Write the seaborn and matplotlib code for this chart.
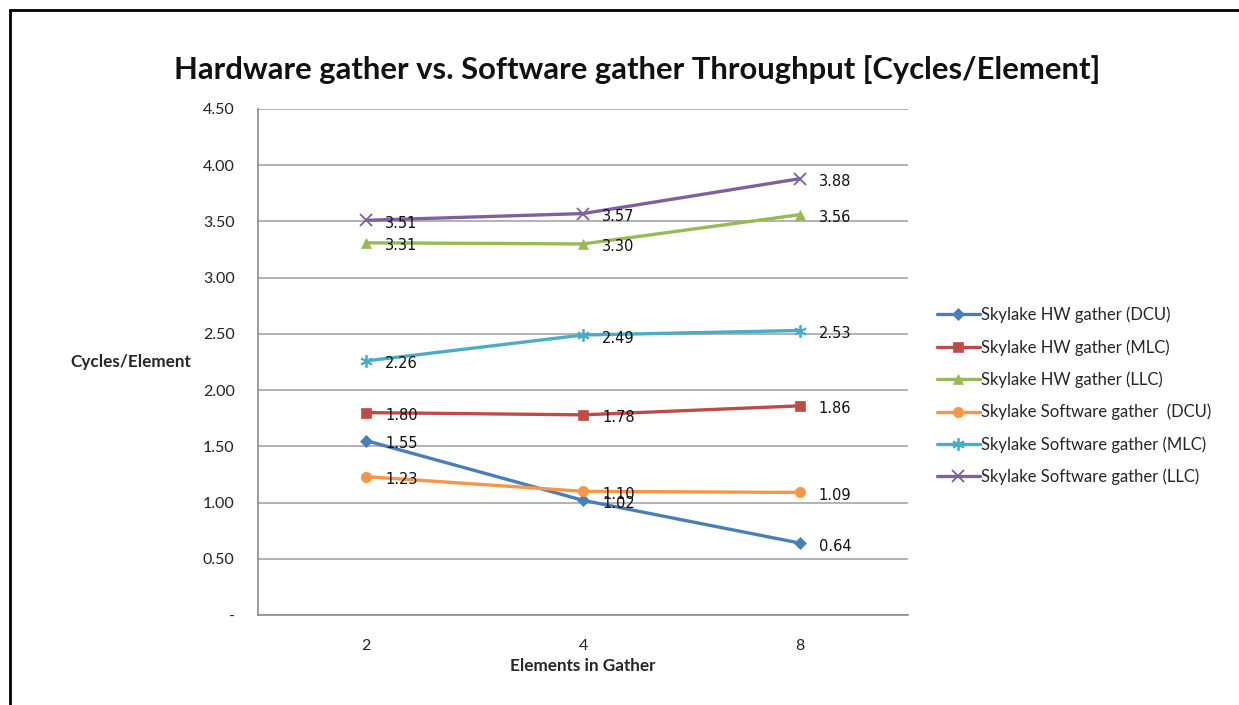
import matplotlib
matplotlib.use("Agg")
import matplotlib.pyplot as plt
from matplotlib.lines import Line2D
from matplotlib.ticker import FixedLocator, FuncFormatter
import seaborn as sns
import pandas as pd

# Gather throughput measurements (cycles per element)
elements = ["2", "4", "8"]
hw_dcu = [1.55, 1.02, 0.64]
hw_mlc = [1.80, 1.78, 1.86]
hw_llc = [3.31, 3.30, 3.56]
sw_dcu = [1.23, 1.10, 1.09]
sw_mlc = [2.26, 2.49, 2.53]
sw_llc = [3.51, 3.57, 3.88]

series_names = [
    "Skylake HW gather (DCU)",
    "Skylake HW gather (MLC)",
    "Skylake HW gather (LLC)",
    "Skylake Software gather  (DCU)",
    "Skylake Software gather (MLC)",
    "Skylake Software gather (LLC)",
]
series_values = [hw_dcu, hw_mlc, hw_llc, sw_dcu, sw_mlc, sw_llc]
colors = ["#4A7EBB", "#BE4B48", "#98B954", "#F79646", "#4BACC6", "#7D60A0"]
markers = ["D", "s", "^", "o", (6, 2, 0), "x"]
marker_sizes = [6.5, 7.5, 7.5, 7.5, 9, 9]

sns.set_theme(style="white")
plt.rcParams["font.family"] = ["Lato", "DejaVu Sans"]

fig = plt.figure(figsize=(12.39, 7.05), dpi=100)
ax = fig.add_axes([258 / 1239, 1 - 615 / 705, 650 / 1239, 506 / 705])

for name, vals, col, mk, ms in zip(series_names, series_values, colors, markers, marker_sizes):
    df = pd.DataFrame({"pos": range(len(elements)), "value": vals})
    sns.lineplot(data=df, x="pos", y="value", color=col, marker=mk, markersize=ms,
                 markeredgecolor=col, markeredgewidth=1.3 if mk in ("x", (6, 2, 0)) else 0.5,
                 linewidth=2.4, label=name, ax=ax)
    for i, v in enumerate(vals):
        ax.annotate(f"{v:.2f}", xy=(i, v), xytext=(19, -3), textcoords="offset pixels",
                    ha="left", va="center", fontsize=10.5, family="DejaVu Sans", color="#111111")

ax.set_xlim(-0.5, 2.5)
ax.set_ylim(0, 4.5)
ax.set_xticks(range(len(elements)))
ax.set_xticklabels(elements)
ax.xaxis.set_minor_locator(FixedLocator([-0.5, 0.5, 1.5, 2.5]))
ax.tick_params(axis="x", which="major", length=0, pad=17.5, labelsize=11.5, labelcolor="#222222")
ax.tick_params(axis="x", which="minor", length=3.6, width=1, color="#8C8C8C", direction="out")
ax.set_yticks([i * 0.5 for i in range(10)])
ax.yaxis.set_major_formatter(FuncFormatter(lambda v, p: "-" if v == 0 else f"{v:.2f}"))
ax.tick_params(axis="y", length=3.6, width=1, color="#8C8C8C", direction="out", pad=13.2,
               labelsize=11.5, labelcolor="#222222")

ax.grid(axis="y", color="#A6A6A6", linewidth=1.2)
ax.grid(axis="x", visible=False)
for s in ("top", "right"):
    ax.spines[s].set_visible(False)
for s in ("left", "bottom"):
    ax.spines[s].set_color("#8C8C8C")
    ax.spines[s].set_linewidth(1.2)

ax.set_xlabel("Elements in Gather", fontsize=12.3, fontweight="bold", labelpad=3.5)
ax.set_ylabel("")
fig.text(70 / 1239, 1 - 362 / 705, "Cycles/Element", fontsize=12.3, fontweight="bold",
         ha="left", va="center")
fig.text(637 / 1239, 1 - 70 / 705, "Hardware gather vs. Software gather Throughput [Cycles/Element]",
         fontsize=22.3, fontweight="bold", ha="center", va="center", color="#111111")

leg = ax.legend(loc="upper left", bbox_to_anchor=(930 / 1239, 1 - 300 / 705),
                bbox_transform=fig.transFigure, frameon=False, fontsize=12,
                handlelength=2.6, handletextpad=0.05, labelspacing=0.95, borderaxespad=0)

# Outer frame of the chart area (top and left edges)
fig.add_artist(Line2D([10 / 1239, 10 / 1239], [0, 1 - 10 / 705], transform=fig.transFigure,
                      color="black", linewidth=2))
fig.add_artist(Line2D([10 / 1239, 1238 / 1239], [1 - 10 / 705, 1 - 10 / 705],
                      transform=fig.transFigure, color="black", linewidth=2))

fig.savefig("out.png", dpi=100, facecolor="white")
